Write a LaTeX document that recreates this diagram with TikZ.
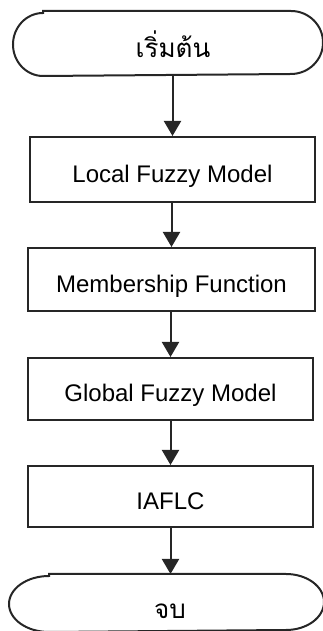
\documentclass[tikz,border=0pt]{standalone}
\usepackage{fontspec}
\setmainfont{Liberation Sans}
\newfontfamily\thaifont[Script=Thai]{Loma}
\usetikzlibrary{arrows.meta}

\begin{document}
\begin{tikzpicture}[x=1pt,y=1pt,
  line width=2pt,
  ink/.style={draw=black!85},
  procbox/.style={ink, rectangle, inner sep=0pt, font=\fontsize{24}{28}\selectfont,
    text height=30pt, text depth=4.8pt},
  termbox/.style={rectangle, inner sep=0pt, draw=none},
  thailabel/.style={inner sep=0pt, font=\thaifont\fontsize{26}{30}\selectfont},
  flow/.style={ink, -{Triangle[width=17pt,length=15pt]}}
]
\useasboundingbox (0,0) rectangle (323,631);

% terminals (outline drawn below)
\node[termbox, minimum width=308pt, minimum height=63pt] (start) at (168,587.5) {};
\node[termbox, minimum width=313pt, minimum height=56pt] (stop) at (166.5,28) {};

% process steps
\node[procbox, minimum width=285pt, minimum height=65pt] (b1) at (172.5,461.5) {Local Fuzzy Model};
\node[procbox, minimum width=287pt, minimum height=63pt] (b2) at (171.5,351.5) {Membership Function};
\node[procbox, minimum width=285pt, minimum height=62pt] (b3) at (170.5,242) {Global Fuzzy Model};
\node[procbox, minimum width=285pt, minimum height=61pt] (b4) at (170.5,134.5) {IAFLC};

% terminal outlines with elliptic ends
\draw[ink] ([xshift=30pt]start.north west) -- ([xshift=-32pt]start.north east)
  arc[start angle=90, end angle=-90, x radius=32pt, y radius=31.5pt]
  -- ([xshift=30pt]start.south west)
  arc[start angle=270, end angle=90, x radius=30pt, y radius=31.5pt] -- cycle;
\draw[ink] ([xshift=40pt]stop.north west) -- ([xshift=-38pt]stop.north east)
  arc[start angle=90, end angle=-90, x radius=38pt, y radius=28pt]
  -- ([xshift=40pt]stop.south west)
  arc[start angle=270, end angle=90, x radius=40pt, y radius=28pt] -- cycle;

% terminal texts
\node[thailabel, text height=34pt, text depth=5pt] (starttext) at ([xshift=5pt]start.center) {เริ่มต้น};
\node[thailabel, text height=36pt, text depth=5pt] (stoptext) at ([xshift=3.5pt]stop.center) {จบ};

% connectors
\draw[flow] (start.south -| b1.north) -- (b1.north);
\draw[flow] (b1.south -| b2.north) -- (b2.north);
\draw[flow] (b2.south -| b3.north) -- (b3.north);
\draw[flow] (b3.south) -- (b3.south |- b4.north);
\draw[flow] (b4.south) -- (b4.south |- stop.north);
\end{tikzpicture}
\end{document}
